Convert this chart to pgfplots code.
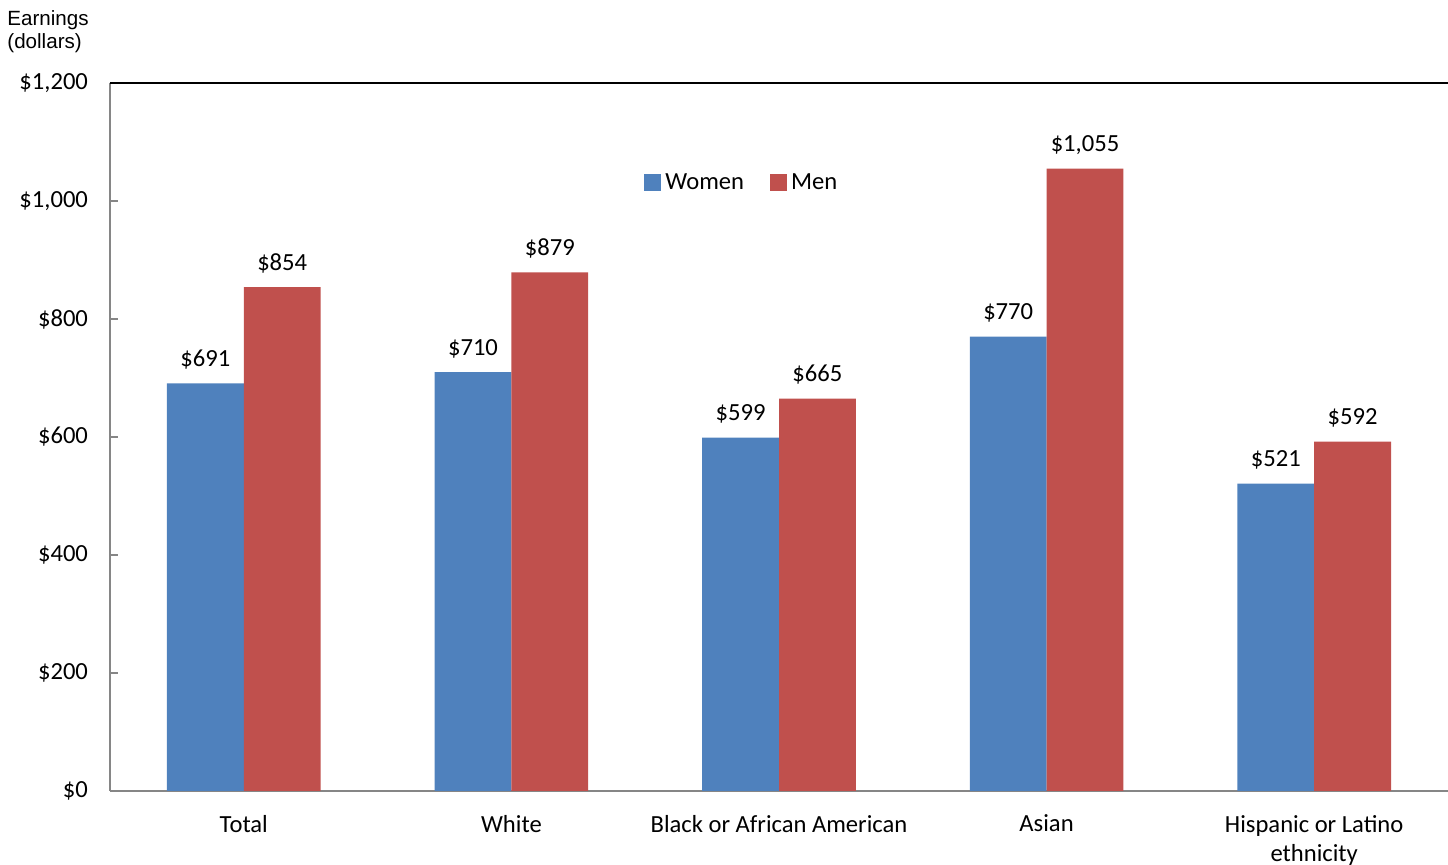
\documentclass[border=0pt]{standalone}
\usepackage{fontspec}
\setmainfont{Carlito}
\newfontfamily\arialfont{Liberation Sans}
\usepackage{pgfplots}
\pgfplotsset{compat=1.18}
\newcommand\mainfs{\fontsize{12.3}{14.5}\selectfont}
\definecolor{wblue}{RGB}{79,129,189}
\definecolor{mred}{RGB}{192,80,77}
\definecolor{axgray}{RGB}{134,134,134}
\begin{document}
\begin{tikzpicture}
    \path[use as bounding box] (-55pt,-37pt) rectangle (669pt,395.5pt);
    \begin{axis}[
            at={(0,0)}, anchor=south west,
            scale only axis,
            width=669pt, height=354pt,
            ybar=0pt,
            bar width=0.287,
            xmin=-0.5, xmax=4.5,
            ymin=0, ymax=1200,
            enlargelimits=false,
            axis x line*=bottom,
            axis y line*=left,
            axis line style={axgray, line width=1pt, -},
            xtick=data,
            xticklabels={Total, White, Black or African American, Asian, {Hispanic or Latino\\ethnicity}},
            xtick style={draw=none},
            x tick label style={align=center, font=\mainfs, yshift=-8.5pt},
            ytick={0,200,...,1200},
            ytick style={axgray, line width=1pt},
            tick align=inside,
            major tick length=4pt,
            y tick label style={font=\mainfs, xshift=-7.5pt},
            yticklabel={\$\pgfmathprintnumber{\tick}},
            /pgf/number format/.cd, 1000 sep={,}, assume math mode=true,
            /pgfplots/.cd,
            nodes near coords={\$\pgfmathprintnumber{\pgfplotspointmeta}},
            nodes near coords style={font=\mainfs, yshift=3.5pt},
            legend style={draw=none, fill=none, at={(0.473,0.859)}, anchor=center,
                font=\mainfs, /tikz/every even column/.append style={column sep=11pt}},
            legend columns=2,
            legend image code/.code={\fill[#1] (0pt,-4.25pt) rectangle (8.5pt,4.25pt);},
            clip=false,
        ]
        \addplot[fill=wblue, draw=none] coordinates {
            (0, 691)
            (1, 710)
            (2, 599)
            (3, 770)
            (4, 521)
        };
        \addplot[fill=mred, draw=none] coordinates {
            (0, 854)
            (1, 879)
            (2, 665)
            (3, 1055)
            (4, 592)
        };
        \legend{Women, Men}
        \draw[black, line width=1pt] (axis cs:-0.5,1200) -- (axis cs:4.5,1200);
    \end{axis}
    \node[anchor=north west, align=left, inner sep=0pt, font=\arialfont\fontsize{10.3}{11.5}\selectfont]
        at (-51.5pt,390.5pt) {Earnings\\(dollars)};
\end{tikzpicture}
\end{document}
